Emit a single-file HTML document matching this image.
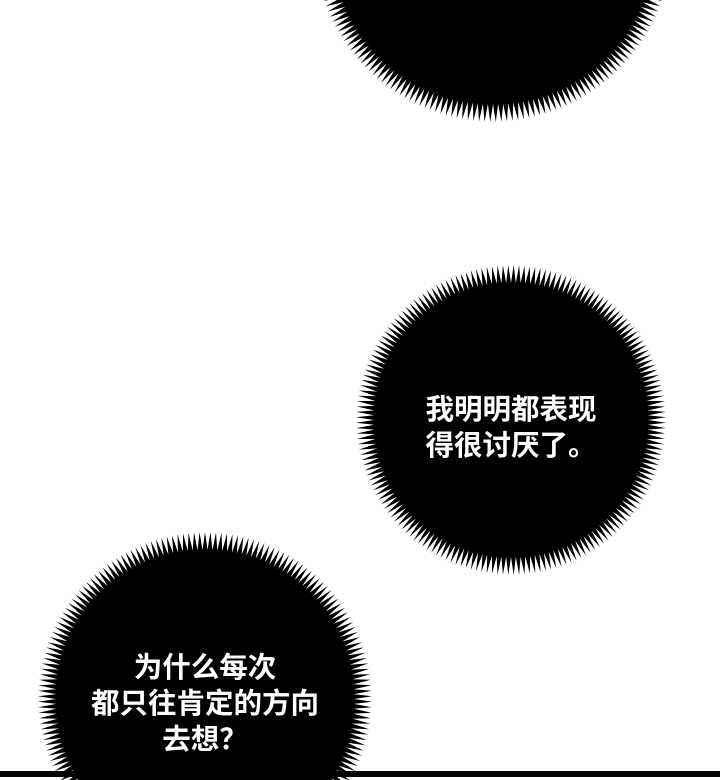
<!DOCTYPE html>
<html><head><meta charset="utf-8"><style>
html,body{margin:0;padding:0;background:#fff;width:720px;height:780px;overflow:hidden;}
#w{position:relative;width:720px;height:780px;overflow:hidden;background:#fff;}
svg{position:absolute;left:0;top:0;}
.t{position:absolute;color:#fff;font-family:"Liberation Sans","Noto Sans CJK SC",sans-serif;font-weight:bold;font-size:28.5px;line-height:36px;text-align:center;white-space:nowrap;}
</style></head><body><div id="w">
<svg id="s" width="720" height="780" viewBox="0 0 720 780">
<rect x="0" y="771" width="720" height="6" fill="#000"/>
</svg>
<div class="t" style="left:411px;top:392px;width:200px;">我明明都表现<br>得很讨厌了。</div>
<div class="t" style="left:55px;top:650px;width:300px;">为什么每次<br>都只往肯定的方向<br>去想？</div>
</div>
<script>
var s=document.getElementById('s');
function spiky(cx,cy,R,L,n){
 var p=[];
 for(var i=0;i<n;i++){
  var a1=2*Math.PI*i/n, a2=2*Math.PI*(i+0.5)/n;
  p.push((cx+(R-L)*Math.cos(a1)).toFixed(1)+','+(cy+(R-L)*Math.sin(a1)).toFixed(1));
  p.push((cx+R*Math.cos(a2)).toFixed(1)+','+(cy+R*Math.sin(a2)).toFixed(1));
 }
 var e=document.createElementNS('http://www.w3.org/2000/svg','polygon');
 e.setAttribute('points',p.join(' '));e.setAttribute('fill','#000');
 s.insertBefore(e,s.firstChild);
}
spiky(493,-57,179,18,200);
spiky(511,420,155,18,180);
spiky(205,699,167,18,190);
</script>
</body></html>
